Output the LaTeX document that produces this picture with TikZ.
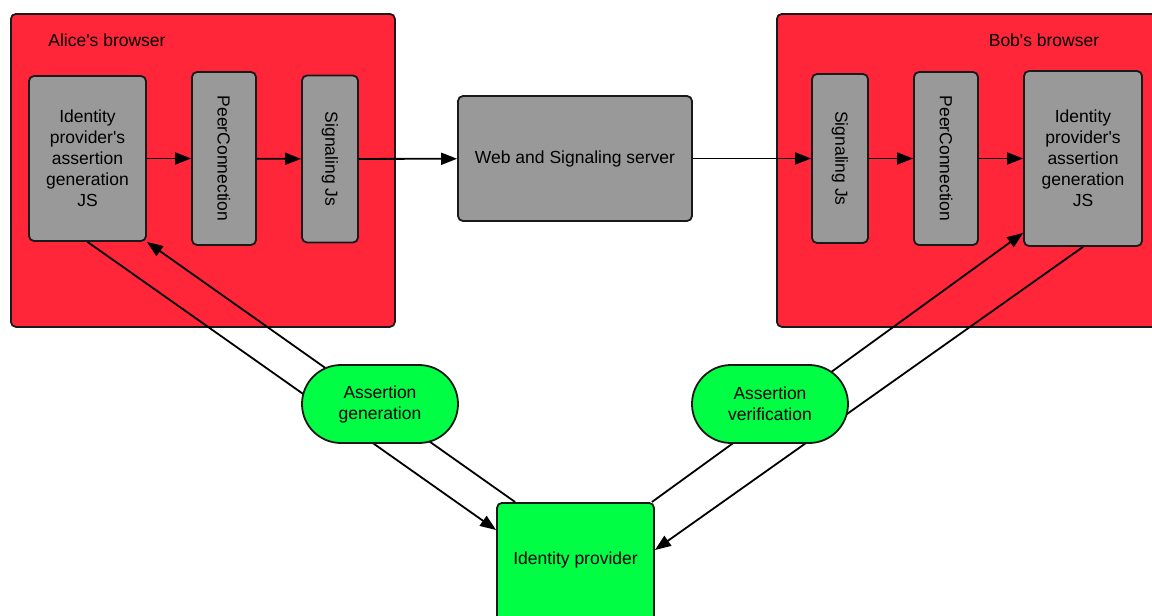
\documentclass[tikz,border=0pt]{standalone}
\usepackage{fontspec}
\setmainfont{Liberation Sans}[Ligatures=TeXOff]
\usetikzlibrary{arrows.meta}
\definecolor{browserred}{RGB}{255,38,58}
\definecolor{boxgray}{RGB}{153,153,153}
\definecolor{idgreen}{RGB}{0,255,68}
\definecolor{edgegray}{RGB}{25,25,25}
\pgfdeclarelayer{bg}
\pgfsetlayers{bg,main}

\begin{document}
\begin{tikzpicture}[x=1pt,y=-1pt,
  every node/.style={font=\fontsize{17.5}{21}\selectfont, inner sep=0pt},
  browser/.style={draw=edgegray, line width=1.8pt, fill=browserred,
    rounded corners=5pt, anchor=north west, minimum height=313pt},
  graybox/.style={draw=edgegray, line width=1.8pt, fill=boxgray,
    rounded corners=5pt, align=center},
  vbox/.style={graybox, rotate=-90},
  pill/.style={draw=edgegray, line width=1.8pt, fill=idgreen,
    rounded corners=39pt, minimum width=156pt, minimum height=78pt, align=center},
  greenbox/.style={draw=edgegray, line width=1.8pt, fill=idgreen, rounded corners=5pt},
  flow/.style={line width=1.8pt, -{Triangle[length=16pt,width=12pt]}},
]
\useasboundingbox (0,0) rectangle (1152,616);

% gray components inside the browsers
\node[graybox, minimum width=117pt, minimum height=165pt] (ajs) at (87.5,158.5)
  {Identity\\provider's\\assertion\\generation\\JS};
\node[vbox, minimum width=173pt, minimum height=64pt] (apc) at (224,158.5) {PeerConnection};
\node[vbox, minimum width=167pt, minimum height=56pt] (asig) at (330,159) {Signaling Js};

\node[graybox, minimum width=234pt, minimum height=125pt] (web) at (575,158.5)
  {Web and Signaling server};

\node[vbox, minimum width=169pt, minimum height=56pt] (bsig) at (840,158.5) {Signaling Js};
\node[vbox, minimum width=173pt, minimum height=64pt] (bpc) at (946,158.5) {PeerConnection};
\node[graybox, minimum width=118pt, minimum height=175pt] (bjs) at (1083,158.5)
  {Identity\\provider's\\assertion\\generation\\JS};

% identity provider side
\node[pill] (agen) at (380,404) {Assertion\\generation};
\node[pill] (aver) at (770,404) {Assertion\\verification};
\node[greenbox, minimum width=157pt, minimum height=140pt, text depth=30pt,
  anchor=north] (idp) at (575.5,502) {Identity provider};

\begin{pgfonlayer}{bg}
  % browser containers
  \node[browser, minimum width=384pt] (alice) at (10,13) {};
  \node[browser, minimum width=390pt] (bob) at (776,13) {};
  % identity exchanges, passing behind the assertion steps
  \draw[flow] (ajs.south) -- ([yshift=-28pt]idp.north west);
  \draw[flow] ([xshift=19pt]idp.north west) -- (ajs.south east);
  \draw[flow] ([xshift=-3pt]idp.north east) -- ([yshift=14pt]bjs.south west);
  \draw[flow] (bjs.south) -- ([yshift=-48pt]idp.north east);
\end{pgfonlayer}

\node (alicelbl) at (107,40) {Alice's browser};
\node (boblbl) at (1044,40) {Bob's browser};

% signaling path
\draw[flow] (ajs) -- (apc);
\draw[flow] (apc) -- (asig);
\draw[flow] (asig) -- (web);
\draw[flow] (web) -- (bsig);
\draw[flow] (bsig) -- (bpc);
\draw[flow] (bpc) -- (bjs);
\end{tikzpicture}
\end{document}
